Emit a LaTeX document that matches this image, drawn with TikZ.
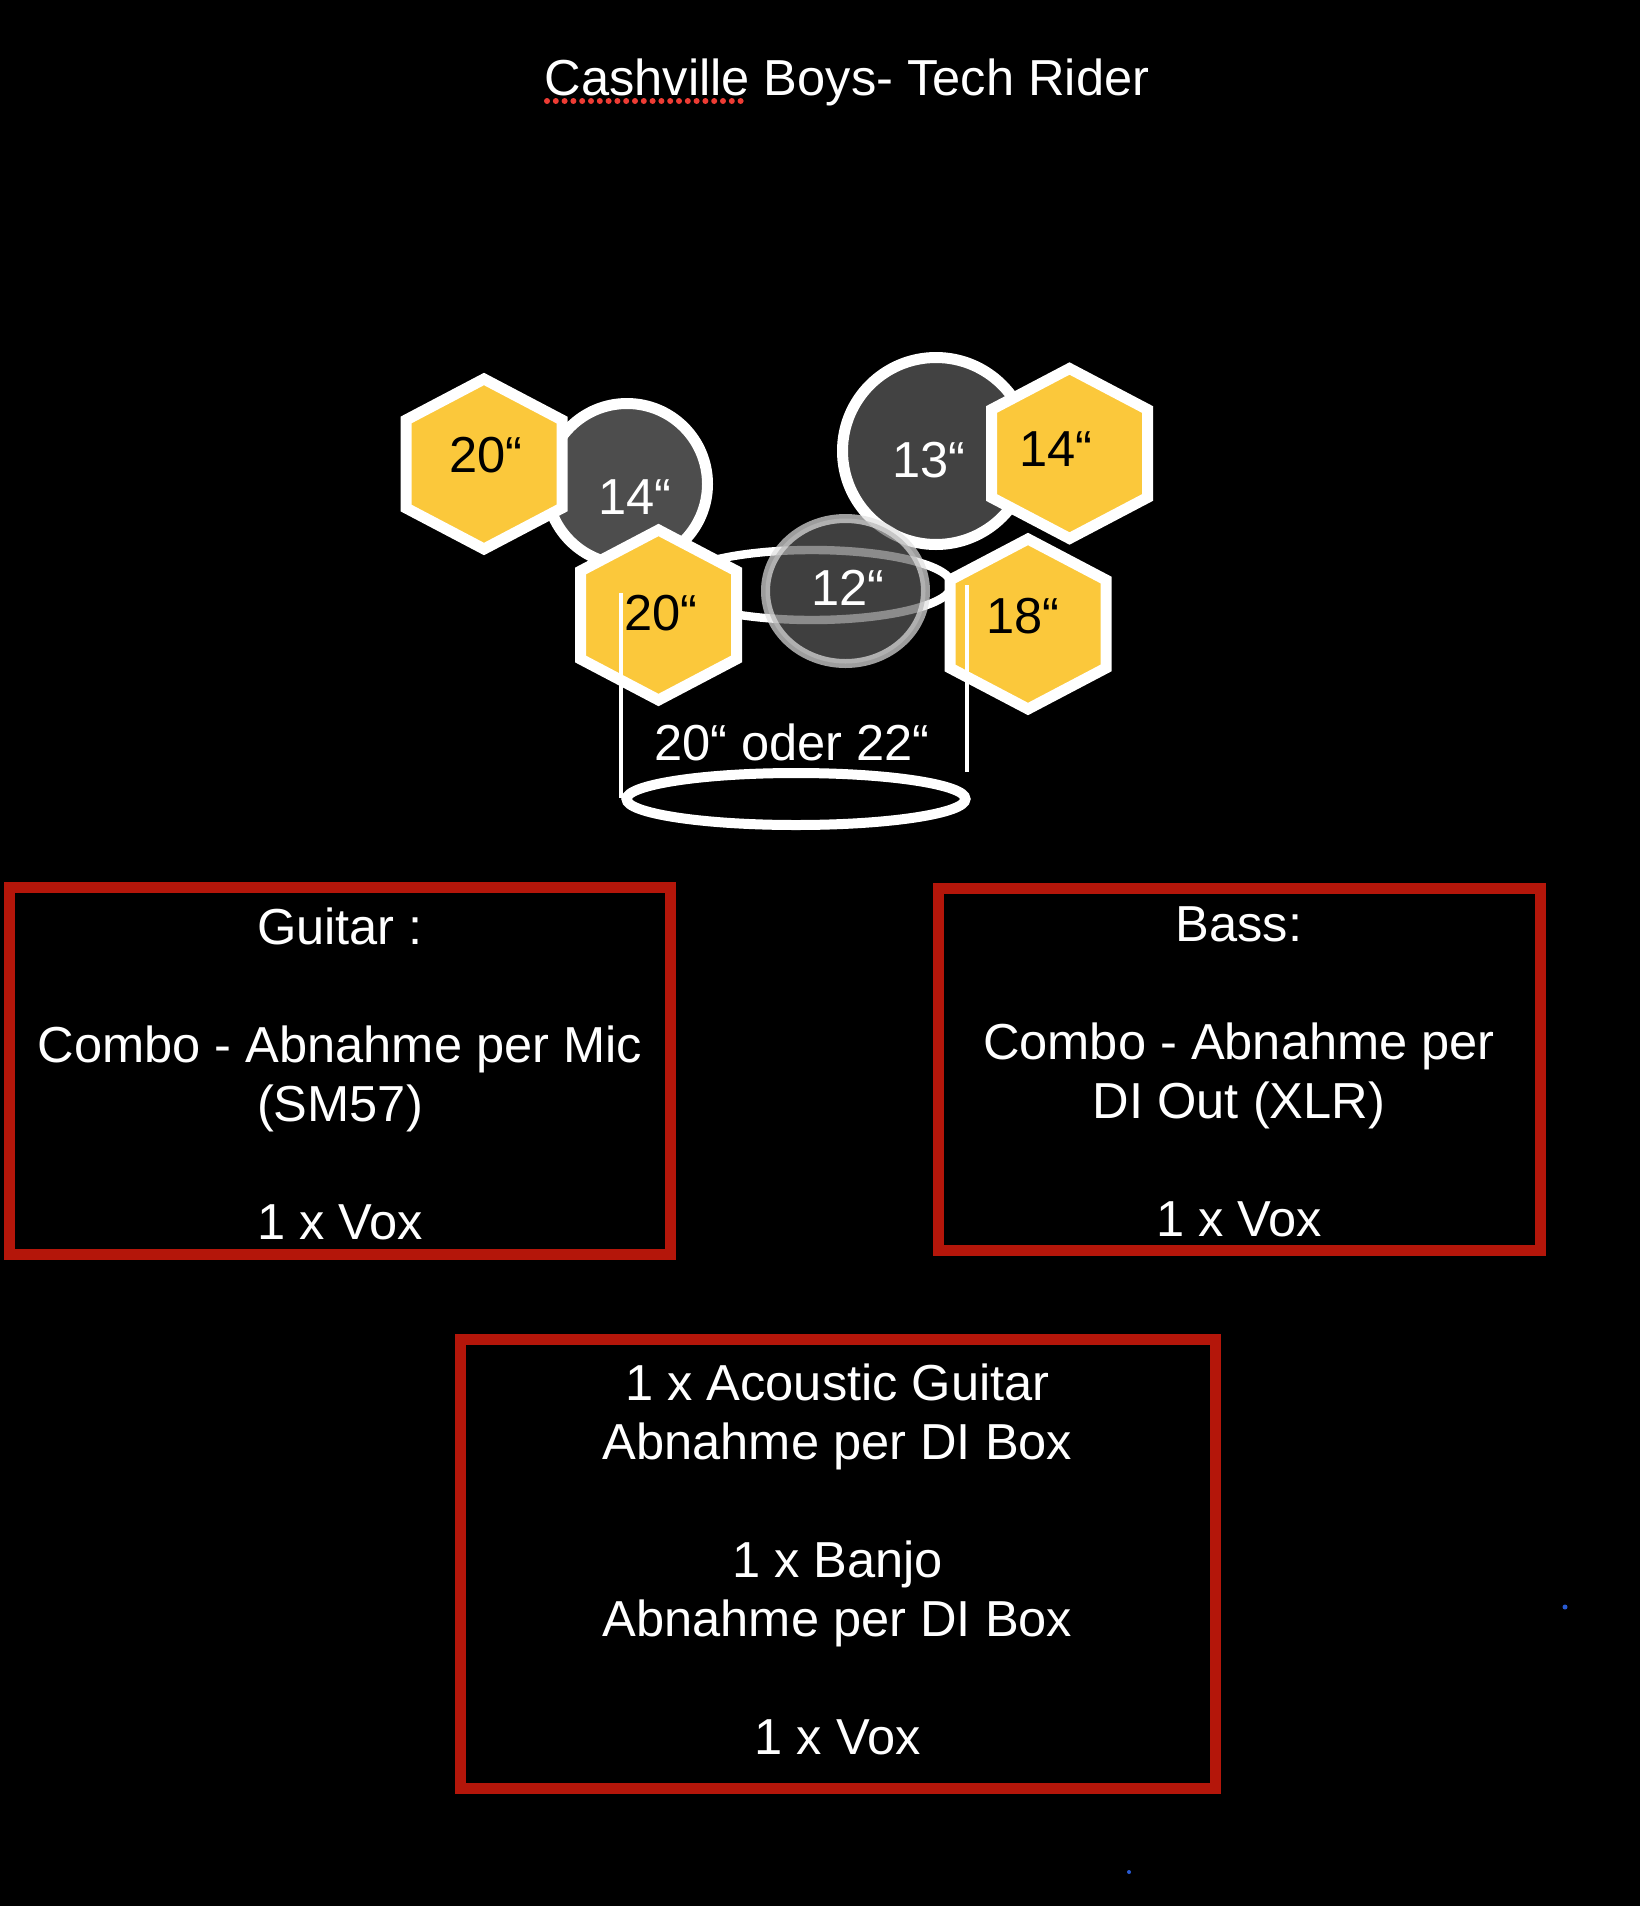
\documentclass[tikz,border=0pt]{standalone}
\usepackage{fontspec}
\setmainfont{Liberation Sans}
\usetikzlibrary{positioning}
\definecolor{cymbal}{RGB}{251,200,59}
\definecolor{tom}{RGB}{77,77,77}
\definecolor{floortom}{RGB}{66,66,66}
\definecolor{snare}{RGB}{91,91,91}
\definecolor{rim}{RGB}{225,225,225}
\definecolor{boxred}{RGB}{180,22,10}
\definecolor{spell}{RGB}{238,60,52}
\definecolor{speck}{RGB}{40,90,210}

\begin{document}
\begin{tikzpicture}[x=0.5pt,y=-0.5pt,
    every node/.style={font=\fontsize{25.3}{29.5}\selectfont,inner sep=0pt},
    hexcym/.style={draw=white,line width=5.5pt,fill=cymbal},
    drum/.style={draw=white,line width=5.5pt},
    redbox/.style={draw=boxred,line width=5.5pt},
    txt/.style={text=white,align=center}]
    \useasboundingbox (0,0) rectangle (1640,1906);
    \fill[black] (0,0) rectangle (1640,1906);
    \node[text=white,anchor=base] (title) at (847,95) {Cashville Boys- Tech Rider};
    \draw[spell,line width=3pt,line cap=round,dash pattern=on 0pt off 4.4pt] (547,101) -- (746,101);
    % drums
    \draw[white,line width=4.2pt] (812,585) ellipse [x radius=140,y radius=35];
    \draw[drum,fill=tom] (627,484) circle [radius=80.5];
    \draw[drum,fill=floortom] (936,451) circle [radius=93.5];
    \draw[draw=rim,fill=snare,line width=4.5pt,opacity=0.7] (845.5,591) ellipse [x radius=80,y radius=72.5];
    \draw[hexcym] (484,464) +(0,-85) -- +(78,-44) -- +(78,44) -- +(0,85) -- +(-78,44) -- +(-78,-44) -- cycle;
    \draw[hexcym] (658.5,615) +(0,-85) -- +(78,-44) -- +(78,44) -- +(0,85) -- +(-78,44) -- +(-78,-44) -- cycle;
    \draw[hexcym] (1069.5,453.5) +(0,-85) -- +(78,-44) -- +(78,44) -- +(0,85) -- +(-78,44) -- +(-78,-44) -- cycle;
    \draw[hexcym] (1028,624) +(0,-85) -- +(78,-44) -- +(78,44) -- +(0,85) -- +(-78,44) -- +(-78,-44) -- cycle;
    \node (crashL) at (486,455) {20“};
    \node[text=white] (tomL) at (635,497) {14“};
    \node (rideL) at (661,613) {20“};
    \node[text=white] (tomR) at (929,460) {13“};
    \node (hihat) at (1056,449) {14“};
    \node[text=white] (snare) at (848,588) {12“};
    \node (crashR) at (1023,616) {18“};
    % kick
    \coordinate (kickL) at (621,593);
    \coordinate (kickLb) at (621,798);
    \coordinate (kickR) at (967,585);
    \coordinate (kickRb) at (967,772);
    \draw[white,line width=1.6pt] (kickL) -- (kickLb);
    \draw[white,line width=1.6pt] (kickR) -- (kickRb);
    \draw[white,line width=5pt] (796,799) ellipse [x radius=169.5,y radius=26];
    \node[text=white] (kick) at (792,742) {20“ oder 22“};
    % boxes
    \draw[redbox] (9.5,887) rectangle (670.5,1254);
    \node[txt] (guitar) at (340,1073.5) {Guitar :\\[29.5pt]Combo - Abnahme per Mic\\(SM57)\\[29.5pt]1 x Vox};
    \draw[redbox] (938,888) rectangle (1540,1250);
    \node[txt] (bass) at (1239,1072) {Bass:\\[29.5pt]Combo - Abnahme per\\DI Out (XLR)\\[29.5pt]1 x Vox};
    \draw[redbox] (460,1339) rectangle (1215,1788);
    \node[txt] (acoustic) at (837.5,1559) {1 x Acoustic Guitar\\Abnahme per DI Box\\[29.5pt]1 x Banjo\\Abnahme per DI Box\\[29.5pt]1 x Vox};
    \fill[speck] (1565,1607) circle [radius=2.5];
    \fill[speck] (1129,1872) circle [radius=2];
\end{tikzpicture}
\end{document}
